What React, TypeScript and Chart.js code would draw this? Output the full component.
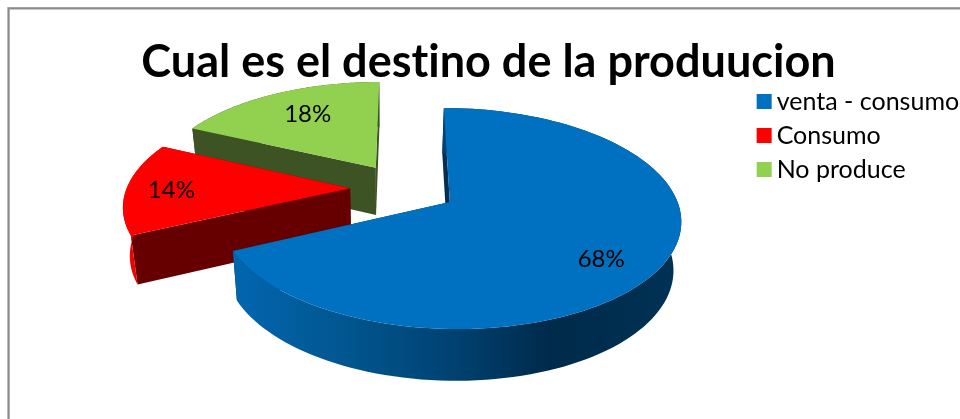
import React, { useEffect, useRef } from "react";
import { Chart, registerables } from "chart.js";

Chart.register(...registerables);

const categories = ["venta - consumo", "Consumo", "No produce"];
const shares = [68, 14, 18];
const faceColors = ["#0070C0", "#FF0000", "#92D050"];
const wallColors = ["#002F50", "#660000", "#3E5323"];
const titleText = "Cual es el destino de la produucion";

// placement of each value label inside its slice: [fraction along the arc, fraction of the radius]
const labelPlacement = [
  [0.525, 0.77],
  [0.5, 0.8],
  [0.54, 0.71],
];

// perspective projection of the pie plane
const K = 0.147;
const topPlane = { x: 403.7, y: 188.3, a: 223.4, b: 104 };
const bottomPlane = { x: 403.2, y: 236, a: 217.5, b: 107 };
const FONT = "Lato";
const SWATCH_SHIFT = 7.5;
const SWATCH_SIZE = 15;

type Plane = typeof topPlane;

const project = (p: Plane, u: number, v: number): [number, number] => {
  const s = 1 / (1 - K * v);
  return [p.x + p.a * u * s, p.y + p.b * v * s];
};

const polygon = (ctx: CanvasRenderingContext2D, pts: [number, number][], fill: string | CanvasGradient) => {
  ctx.beginPath();
  pts.forEach(([x, y], i) => (i ? ctx.lineTo(x, y) : ctx.moveTo(x, y)));
  ctx.closePath();
  ctx.fillStyle = fill;
  ctx.fill();
};

const pie3d = {
  id: "pie3d",
  beforeDraw(chart: any) {
    const ctx: CanvasRenderingContext2D = chart.ctx;
    (ctx as any).letterSpacing = "0.01px"; // keeps "ti" from becoming a ligature
    ctx.save();
    ctx.fillStyle = "#fff";
    ctx.fillRect(0, 0, chart.width, chart.height);
    ctx.strokeStyle = "#c8c8c8";
    ctx.lineWidth = 3;
    ctx.strokeRect(8.5, 8.5, chart.width + 20, chart.height + 20);
    ctx.strokeStyle = "#8a8a8a";
    ctx.lineWidth = 1.6;
    ctx.strokeRect(8.6, 8.2, chart.width + 20, chart.height + 20);
    ctx.restore();
  },
  beforeDatasetsDraw(chart: any) {
    const ctx: CanvasRenderingContext2D = chart.ctx;
    const arcs = chart.getDatasetMeta(0).data;
    const geometry = arcs.map((arc: any) => {
      const { startAngle, endAngle, outerRadius } = arc.getProps(["startAngle", "endAngle", "outerRadius"], true);
      const mid = (startAngle + endAngle) / 2;
      const d = arc.options.offset / outerRadius;
      return { startAngle, endAngle, cu: Math.cos(mid) * d, cv: Math.sin(mid) * d };
    });

    const rimGradient = (i: number) => {
      const g = ctx.createLinearGradient(233, 0, 681, 0);
      if (i === 0) {
        g.addColorStop(0, "#0266B0");
        g.addColorStop(0.25, "#01568F");
        g.addColorStop(0.5, "#004170");
        g.addColorStop(0.71, "#002A4A");
        g.addColorStop(1, "#003254");
        return g;
      }
      return i === 1 ? "#F00000" : wallColors[i];
    };

    ctx.save();
    // back-to-front: No produce, Consumo, venta - consumo
    [2, 1, 0].forEach((i) => {
      const { startAngle, endAngle, cu, cv } = geometry[i];
      const n = 120;
      const rim: [number, number][] = [];
      for (let j = 0; j <= n; j++) {
        const a = startAngle + ((endAngle - startAngle) * j) / n;
        rim.push([cu + Math.cos(a), cv + Math.sin(a)]);
      }
      const topRim = rim.map(([u, v]) => project(topPlane, u, v));
      const botRim = rim.map(([u, v]) => project(bottomPlane, u, v));
      const topApex = project(topPlane, cu, cv);
      const botApex = project(bottomPlane, cu, cv);

      polygon(ctx, [topApex, topRim[0], botRim[0], botApex], wallColors[i]);
      polygon(ctx, [topApex, topRim[n], botRim[n], botApex], wallColors[i]);
      polygon(ctx, [...topRim, ...[...botRim].reverse()], rimGradient(i));
      polygon(ctx, [topApex, ...topRim], faceColors[i]);
    });

    ctx.fillStyle = "#000";
    ctx.font = `24px ${FONT}`;
    ctx.textAlign = "center";
    ctx.textBaseline = "middle";
    geometry.forEach((g: any, i: number) => {
      const [along, radial] = labelPlacement[i];
      const a = g.startAngle + (g.endAngle - g.startAngle) * along;
      const [x, y] = project(topPlane, g.cu + radial * Math.cos(a), g.cv + radial * Math.sin(a));
      ctx.fillText(`${shares[i]}%`, x, y + 1.5);
    });
    ctx.restore();
    return false;
  },
  afterDraw(chart: any) {
    // legend swatches sit closer to their text than the legend's own font-based gap allows
    const ctx: CanvasRenderingContext2D = chart.ctx;
    const legend = chart.legend;
    ctx.save();
    legend.legendItems.forEach((item: any, i: number) => {
      const box = legend.legendHitBoxes[i];
      ctx.fillStyle = faceColors[item.index];
      ctx.fillRect(box.left + SWATCH_SHIFT, box.top + (box.height - SWATCH_SIZE) / 2, SWATCH_SIZE, SWATCH_SIZE);
    });
    ctx.restore();
  },
};

export default function App() {
  const ref = useRef<HTMLCanvasElement>(null);
  useEffect(() => {
    document.body.style.margin = "0";
    const chart = new Chart(ref.current!, {
      type: "pie",
      data: {
        labels: categories,
        datasets: [
          {
            data: shares,
            backgroundColor: faceColors,
            borderWidth: 0,
            offset: 24,
          },
        ],
      },
      options: {
        responsive: false,
        animation: false,
        radius: 100,
        layout: { padding: { left: 8, top: 44, right: -9 } },
        plugins: {
          tooltip: { enabled: false },
          title: {
            display: true,
            text: titleText,
            color: "#000",
            font: { family: FONT, size: 45, weight: "bold", lineHeight: 0.8 },
            padding: 0,
          },
          legend: {
            position: "right",
            align: "start",
            fullSize: false,
            labels: {
              color: "#000",
              font: { family: FONT, size: 25 },
              boxWidth: SWATCH_SIZE,
              boxHeight: SWATCH_SIZE,
              padding: 9,
              generateLabels: (chart: any) =>
                Chart.overrides.pie.plugins.legend.labels
                  .generateLabels(chart)
                  .map((item: any) => ({ ...item, fillStyle: "transparent", strokeStyle: "transparent", lineWidth: 0 })),
            },
          },
        },
      },
      plugins: [pie3d],
    } as any);
    return () => chart.destroy();
  }, []);
  return <canvas ref={ref} width={960} height={419} style={{ display: "block" }} />;
}
